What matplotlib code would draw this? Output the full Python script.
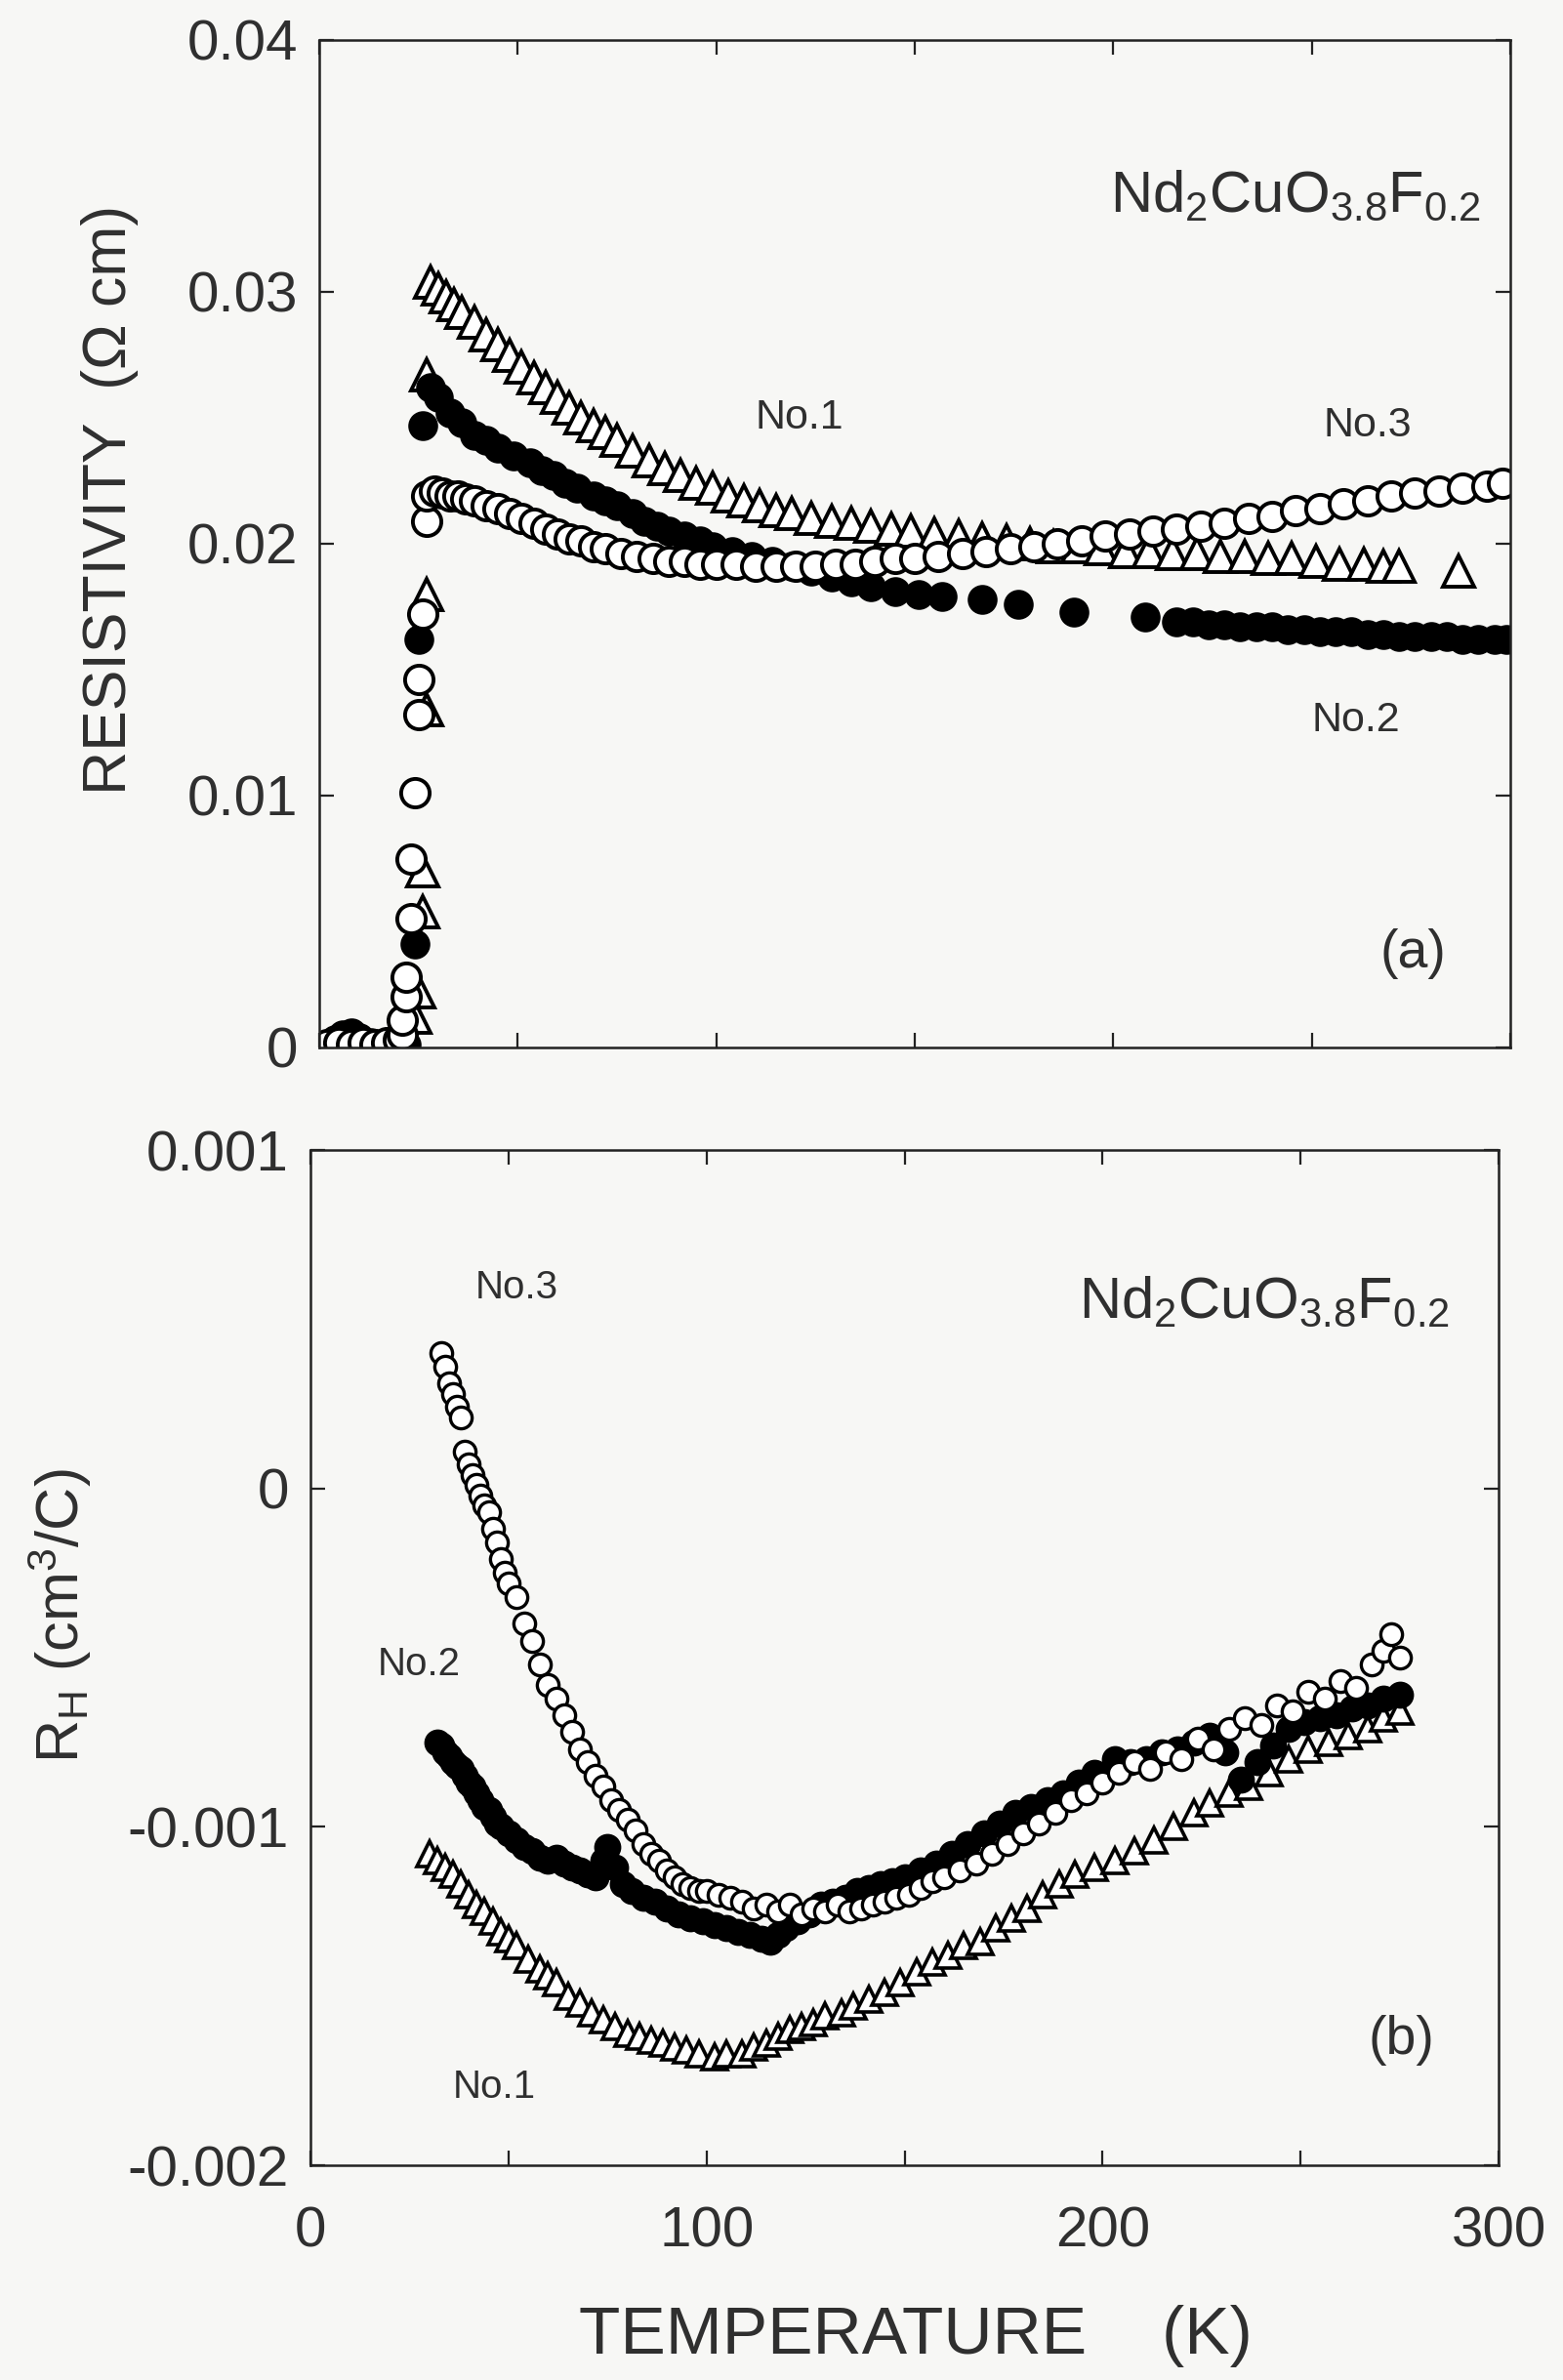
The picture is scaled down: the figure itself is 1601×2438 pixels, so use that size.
import matplotlib
matplotlib.use("Agg")
import matplotlib.pyplot as plt

plt.rcParams['font.family'] = ['Liberation Sans', 'DejaVu Sans']
plt.rcParams['mathtext.fontset'] = 'custom'
plt.rcParams['mathtext.rm'] = 'Liberation Sans'
plt.rcParams['mathtext.it'] = 'Liberation Sans'

# ---------------- data: panel (a) resistivity (Ohm cm) ----------------
T_a1 = [24, 25, 26, 26, 27, 27, 27, 28, 30, 32, 34, 36, 39, 42, 45, 48, 51, 54, 57, 60,
        63, 66, 69, 72, 75, 79, 83, 87, 91, 95, 99, 103, 107, 111, 115, 119, 124, 129,
        134, 139, 144, 149, 155, 161, 167, 173, 179, 185, 191, 197, 203, 209, 215, 221,
        227, 233, 239, 245, 251, 257, 263, 268, 272, 287]
rho_a1 = [0.0012, 0.0022, 0.0054, 0.0070, 0.0134, 0.0180, 0.0267, 0.0304, 0.0301, 0.0298,
          0.0295, 0.0292, 0.0288, 0.0283, 0.0279, 0.0275, 0.0270, 0.0266, 0.0262, 0.0258,
          0.0254, 0.0250, 0.0247, 0.0244, 0.0241, 0.0237, 0.0233, 0.0230, 0.0227, 0.0224,
          0.0222, 0.0219, 0.0217, 0.0215, 0.0213, 0.0212, 0.0210, 0.0209, 0.0208, 0.0207,
          0.0206, 0.0205, 0.0204, 0.0203, 0.0202, 0.0201, 0.0200, 0.0199, 0.0199, 0.0198,
          0.0197, 0.0197, 0.0196, 0.0196, 0.0195, 0.0195, 0.0194, 0.0194, 0.0193, 0.0192,
          0.0192, 0.0191, 0.0191, 0.0189]

T_a2 = [2, 4, 6, 8, 10, 13, 16, 19, 22, 24, 25, 26, 28, 30, 33, 36, 39, 42, 45, 49, 53,
        56, 59, 62, 65, 69, 72, 75, 79, 82, 85, 88, 92, 96, 99, 104, 109, 114, 119, 124,
        129, 134, 139, 145, 151, 157, 167, 176, 190, 208, 216, 220, 224, 228, 232, 236,
        240, 244, 248, 252, 256, 260, 264, 268, 272, 276, 280, 284, 288, 292, 296, 299]
rho_a2 = [0.0001, 0.0003, 0.0005, 0.0006, 0.0004, 0.0002, 0.0001, 0.0001, 0.0001, 0.0041,
          0.0162, 0.0247, 0.0262, 0.0258, 0.0252, 0.0248, 0.0243, 0.0241, 0.0238, 0.0235,
          0.0232, 0.0229, 0.0227, 0.0224, 0.0222, 0.0219, 0.0217, 0.0215, 0.0212, 0.0209,
          0.0207, 0.0205, 0.0203, 0.0201, 0.0199, 0.0197, 0.0195, 0.0193, 0.0191, 0.0189,
          0.0187, 0.0185, 0.0183, 0.0181, 0.0180, 0.0179, 0.0178, 0.0176, 0.0173, 0.0171,
          0.0169, 0.0169, 0.0168, 0.0168, 0.0167, 0.0167, 0.0167, 0.0166, 0.0166, 0.0165,
          0.0165, 0.0165, 0.0164, 0.0164, 0.0163, 0.0163, 0.0163, 0.0163, 0.0162, 0.0162,
          0.0162, 0.0162]

T_a3 = [2, 5, 8, 11, 14, 17, 20, 21, 21, 22, 22, 23, 23, 24, 25, 25, 26, 27, 27, 29, 31,
        33, 35, 37, 39, 42, 45, 48, 51, 54, 57, 60, 63, 66, 69, 72, 76, 80, 84, 88, 92,
        96, 100, 105, 110, 115, 120, 125, 130, 135, 140, 145, 150, 156, 162, 168, 174,
        180, 186, 192, 198, 204, 210, 216, 222, 228, 234, 240, 246, 252, 258, 264, 270,
        276, 282, 288, 294, 298]
rho_a3 = [0.0001, 0.0002, 0.0001, 0.0002, 0.0001, 0.0002, 0.0003, 0.0005, 0.0011, 0.0020,
          0.0028, 0.0051, 0.0075, 0.0101, 0.0132, 0.0146, 0.0172, 0.0209, 0.0219, 0.0221,
          0.0220, 0.0219, 0.0219, 0.0218, 0.0217, 0.0215, 0.0214, 0.0212, 0.0210, 0.0208,
          0.0206, 0.0204, 0.0202, 0.0201, 0.0199, 0.0198, 0.0196, 0.0195, 0.0194, 0.0193,
          0.0193, 0.0192, 0.0192, 0.0192, 0.0191, 0.0191, 0.0191, 0.0191, 0.0192, 0.0192,
          0.0193, 0.0194, 0.0194, 0.0195, 0.0196, 0.0197, 0.0198, 0.0199, 0.0200, 0.0201,
          0.0203, 0.0204, 0.0205, 0.0206, 0.0207, 0.0208, 0.0210, 0.0211, 0.0213, 0.0214,
          0.0216, 0.0217, 0.0219, 0.0220, 0.0221, 0.0222, 0.0223, 0.0224]

# ---------------- data: panel (b) Hall coefficient (cm^3/C) ----------------
T_b1 = [30, 32, 34, 36, 38, 40, 42, 44, 46, 48, 50, 52, 55, 58, 60, 62, 65, 68, 71, 74,
        77, 80, 83, 86, 89, 92, 95, 98, 102, 105, 109, 112, 115, 118, 121, 124, 127, 130,
        134, 137, 141, 145, 149, 153, 157, 161, 165, 169, 173, 177, 181, 185, 189, 193,
        198, 203, 208, 213, 218, 223, 227, 232, 237, 242, 247, 252, 257, 262, 267, 271, 275]
RH_b1 = [-0.00108, -0.00110, -0.00112, -0.00114, -0.00117, -0.00120, -0.00123, -0.00125,
         -0.00128, -0.00131, -0.00133, -0.00135, -0.00139, -0.00142, -0.00144, -0.00146,
         -0.00150, -0.00152, -0.00155, -0.00157, -0.00159, -0.00161, -0.00162, -0.00163,
         -0.00164, -0.00165, -0.00166, -0.00167, -0.00168, -0.00167, -0.00167, -0.00165,
         -0.00164, -0.00162, -0.00160, -0.00159, -0.00158, -0.00156, -0.00155, -0.00153,
         -0.00151, -0.00149, -0.00146, -0.00143, -0.00140, -0.00138, -0.00135, -0.00134,
         -0.00130, -0.00127, -0.00124, -0.00120, -0.00117, -0.00114, -0.00112, -0.00110,
         -0.00107, -0.00104, -0.00100, -0.00096, -0.00093, -0.00090, -0.00088, -0.00084,
         -0.00080, -0.00077, -0.00075, -0.00073, -0.00071, -0.00068, -0.00066]

T_b2 = [32, 33, 34, 35, 36, 37, 38, 39, 40, 41, 42, 43, 44, 45, 46, 47, 48, 50, 52, 54,
        56, 58, 60, 62, 64, 66, 68, 70, 72, 74, 75, 77, 79, 81, 84, 87, 90, 93, 96, 99,
        102, 105, 108, 111, 114, 116, 118, 120, 123, 126, 129, 132, 135, 138, 141, 144,
        147, 150, 154, 158, 162, 166, 170, 174, 178, 182, 186, 190, 194, 198, 203, 207,
        211, 215, 219, 223, 227, 231, 235, 239, 243, 247, 251, 255, 259, 263, 267, 271, 275]
RH_b2 = [-0.00075, -0.00076, -0.00078, -0.00079, -0.00081, -0.00082, -0.00083, -0.00085,
         -0.00087, -0.00088, -0.00090, -0.00092, -0.00094, -0.00095, -0.00097, -0.00099,
         -0.00100, -0.00102, -0.00104, -0.00106, -0.00107, -0.00109, -0.00110, -0.00109,
         -0.00111, -0.00112, -0.00113, -0.00114, -0.00115, -0.00110, -0.00106, -0.00112,
         -0.00117, -0.00119, -0.00121, -0.00122, -0.00124, -0.00126, -0.00127, -0.00128,
         -0.00129, -0.00130, -0.00131, -0.00132, -0.00133, -0.00134, -0.00132, -0.00130,
         -0.00128, -0.00126, -0.00123, -0.00122, -0.00121, -0.00119, -0.00118, -0.00117,
         -0.00116, -0.00115, -0.00113, -0.00111, -0.00108, -0.00105, -0.00102, -0.00099,
         -0.00096, -0.00094, -0.00092, -0.00090, -0.00087, -0.00084, -0.00080, -0.00081,
         -0.00080, -0.00078, -0.00077, -0.00075, -0.00073, -0.00078, -0.00086, -0.00081,
         -0.00076, -0.00071, -0.00069, -0.00068, -0.00067, -0.00065, -0.00064, -0.00062,
         -0.00061]

T_b3 = [33, 34, 35, 36, 37, 38, 39, 40, 41, 42, 43, 44, 45, 46, 47, 48, 49, 50, 52, 54,
        56, 58, 60, 62, 64, 66, 68, 70, 72, 74, 76, 78, 80, 82, 84, 86, 88, 90, 92, 94,
        96, 98, 100, 103, 106, 109, 112, 115, 118, 121, 124, 127, 130, 133, 136, 139, 142,
        145, 148, 151, 154, 157, 160, 164, 168, 172, 176, 180, 184, 188, 192, 196, 200,
        204, 208, 212, 216, 220, 224, 228, 232, 236, 240, 244, 248, 252, 256, 260, 264,
        268, 271, 273, 275]
RH_b3 = [0.00040, 0.00036, 0.00031, 0.00028, 0.00024, 0.00021, 0.00011, 0.00007, 0.00004,
         0.00001, -0.00002, -0.00005, -0.00007, -0.00012, -0.00016, -0.00021, -0.00025,
         -0.00028, -0.00032, -0.00040, -0.00045, -0.00052, -0.00058, -0.00062, -0.00067,
         -0.00072, -0.00077, -0.00081, -0.00085, -0.00088, -0.00092, -0.00095, -0.00098,
         -0.00101, -0.00105, -0.00108, -0.00110, -0.00113, -0.00115, -0.00117, -0.00118,
         -0.00119, -0.00119, -0.00120, -0.00121, -0.00122, -0.00124, -0.00123, -0.00125,
         -0.00123, -0.00126, -0.00124, -0.00125, -0.00123, -0.00125, -0.00124, -0.00123,
         -0.00122, -0.00121, -0.00120, -0.00118, -0.00116, -0.00115, -0.00113, -0.00111,
         -0.00108, -0.00105, -0.00102, -0.00099, -0.00096, -0.00092, -0.00090, -0.00087,
         -0.00084, -0.00081, -0.00083, -0.00078, -0.00080, -0.00074, -0.00077, -0.00071,
         -0.00068, -0.00070, -0.00064, -0.00066, -0.00060, -0.00062, -0.00057, -0.00059,
         -0.00052, -0.00048, -0.00043, -0.00050]

x_ticks = [0, 100, 200, 300]
x_ticklabels = ["0", "100", "200", "300"]
ya_ticks = [0, 0.01, 0.02, 0.03, 0.04]
ya_ticklabels = ["0", "0.01", "0.02", "0.03", "0.04"]
yb_ticks = [-0.002, -0.001, 0, 0.001]
yb_ticklabels = ["-0.002", "-0.001", "0", "0.001"]

formula = r"Nd$_2$CuO$_{3.8}$F$_{0.2}$"
TXT = '#2f2f2f'
BG = '#f7f7f5'

fig = plt.figure(figsize=(16.01, 24.38), dpi=100, facecolor=BG)
W, H = 1601.0, 2438.0

def mk_axes(l, r, t, b):
    return fig.add_axes([l / W, 1 - b / H, (r - l) / W, (b - t) / H], facecolor=BG)

axa = mk_axes(327, 1547, 41, 1073)
axb = mk_axes(318, 1535, 1178, 2218)

for ax in (axa, axb):
    ax.set_xlim(0, 300)
    ax.set_xticks([0, 50, 100, 150, 200, 250, 300])
    ax.tick_params(axis='both', which='both', direction='in', top=True, right=True,
                   length=11, width=1.6, colors='#222222', labelcolor=TXT,
                   labelsize=42)
    ax.tick_params(axis='y', pad=16)
    ax.tick_params(axis='x', pad=30)
    for s in ax.spines.values():
        s.set_linewidth(1.8)
        s.set_color('#222222')

# panel (a)
axa.set_ylim(0, 0.04)
axa.set_yticks(ya_ticks)
axa.set_yticklabels(ya_ticklabels)
axa.set_xticklabels([])
axa.plot(T_a1, rho_a1, ls='none', marker='^', ms=23, mfc='white', mec='black', mew=2.8)
axa.plot(T_a2, rho_a2, ls='none', marker='o', ms=20, mfc='black', mec='black', mew=2.0)
axa.plot(T_a3, rho_a3, ls='none', marker='o', ms=21, mfc='white', mec='black', mew=2.8)
axa.text(0.975, 0.830, formula, transform=axa.transAxes, ha='right', va='baseline',
         fontsize=43, color=TXT)
axa.text(0.918, 0.093, "(a)", transform=axa.transAxes, ha='center', va='center',
         fontsize=40, color=TXT)
axa.text(121, 0.0250, "No.1", ha='center', va='center', fontsize=31, color=TXT)
axa.text(264, 0.0247, "No.3", ha='center', va='center', fontsize=31, color=TXT)
axa.text(261, 0.0130, "No.2", ha='center', va='center', fontsize=31, color=TXT)

# panel (b)
axb.set_ylim(-0.002, 0.001)
axb.set_yticks(yb_ticks)
axb.set_yticklabels(yb_ticklabels)
axb.set_xticklabels(["0", "", "100", "", "200", "", "300"])
axb.plot(T_b1, RH_b1, ls='none', marker='^', ms=19, mfc='white', mec='black', mew=2.6)
axb.plot(T_b2, RH_b2, ls='none', marker='o', ms=18, mfc='black', mec='black', mew=2.0)
axb.plot(T_b3, RH_b3, ls='none', marker='o', ms=16, mfc='white', mec='black', mew=2.4)
axb.text(0.959, 0.835, formula, transform=axb.transAxes, ha='right', va='baseline',
         fontsize=43, color=TXT)
axb.text(0.918, 0.123, "(b)", transform=axb.transAxes, ha='center', va='center',
         fontsize=40, color=TXT)
axb.text(52, 0.000594, "No.3", ha='center', va='center', fontsize=29, color=TXT)
axb.text(27.5, -0.000519, "No.2", ha='center', va='center', fontsize=29, color=TXT)
axb.text(46.5, -0.00177, "No.1", ha='center', va='center', fontsize=29, color=TXT)

# axis labels
fig.text(0.586, 0.0185, "TEMPERATURE    (K)", ha='center', va='center',
         fontsize=50, color=TXT)
fig.text(0.070, 0.790, "RESISTIVITY  (\u03a9 cm)", ha='center', va='center',
         rotation=90, fontsize=45, color=TXT)
fig.text(0.038, 0.321, r"R$_\mathrm{H}$ (cm$^3$/C)", ha='center', va='center',
         rotation=90, fontsize=44, color=TXT)

fig.savefig("out.png", dpi=100, facecolor=BG)
